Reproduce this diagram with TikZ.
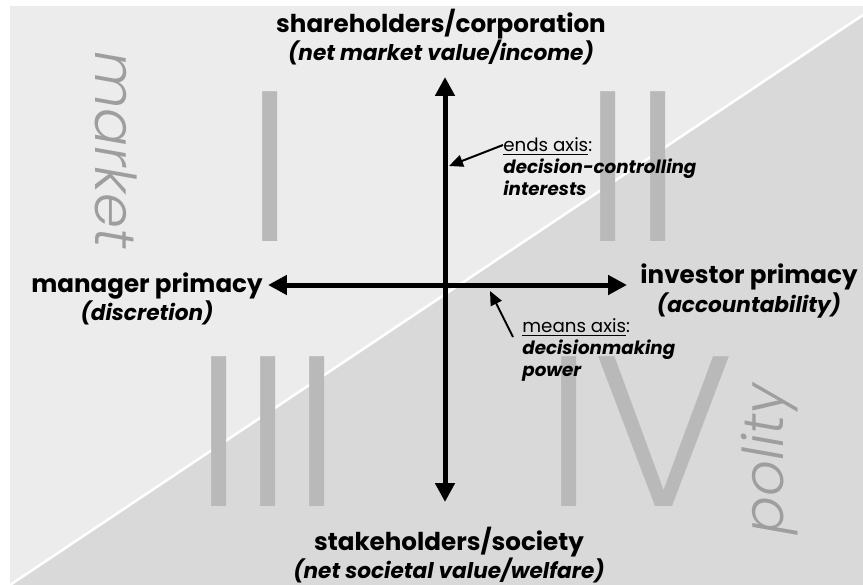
\documentclass[tikz,border=0pt]{standalone}
\usepackage{fontspec}
\setmainfont{Poppins}
\newfontfamily\thinfont{Poppins Light}
\usepackage{tikz}
\usetikzlibrary{arrows.meta, positioning}

\definecolor{marketgray}{HTML}{ECECEC}
\definecolor{politygray}{HTML}{D9D9D9}
\definecolor{numeralgray}{HTML}{B9B9B9}
\definecolor{realmgray}{HTML}{9E9E9E}

\newcommand{\polesub}[1]{{\fontsize{12.3}{16}\selectfont\itshape #1}}

\begin{document}
\begin{tikzpicture}[x=0.02cm, y=-0.02cm,
        pole/.style={font=\fontsize{14}{16}\selectfont\bfseries, align=center, inner sep=0pt},
        note/.style={font=\fontsize{10.4}{12.5}\selectfont, align=left, anchor=north west, inner sep=0pt},
        axis/.style={{Triangle[length=0.38cm, width=0.38cm]}-{Triangle[length=0.38cm, width=0.38cm]}, line width=0.1cm},
        pointer/.style={-{Triangle[length=0.28cm, width=0.24cm]}, line width=0.04cm},
        numeral/.style={text=numeralgray, font=\thinfont\fontsize{122}{122}\selectfont, inner sep=0pt, anchor=base},
        realm/.style={text=realmgray, font=\thinfont\itshape\fontsize{32}{32}\selectfont, inner sep=0pt}
    ]
            \useasboundingbox (0,0) rectangle (863,585);

            % Background: market above the diagonal, polity below
            \fill[white] (0,0) rectangle (863,585);
            \fill[marketgray] (10,6) rectangle (863,585);
            \fill[politygray] (10,585) -- (863,15) -- (863,585) -- cycle;
            \draw[white, line width=0.05cm] (10,585) -- (863,15);

            \node[realm, rotate=-90] (market) at (116,150) {market};
            \node[realm, rotate=90] (polity) at (770,459) {polity};

            % Quadrants
            \node[numeral] (q1) at (270,241) {I};
            \node[numeral] (q2) at (633,241) {II};
            \node[numeral] (q3) at (268,506) {III};
            \node[numeral] (q4) at (640,506) {IV};

            % Poles
            \node[pole] (share) at (441,37) {shareholders/corporation\\\polesub{(net market value/income)}};
            \node[pole] (stake) at (449,555) {stakeholders/society\\\polesub{(net societal value/welfare)}};
            \node[pole] (manager) at (147,299) {manager primacy\\\polesub{(discretion)}};
            \node[pole] (investor) at (749,291) {investor primacy\\\polesub{(accountability)}};

            % Axes
            \coordinate (top) at (445,77);
            \coordinate (bottom) at (445,502);
            \coordinate (left) at (268,285);
            \coordinate (right) at (627,285);
            \draw[axis] (bottom) -- (top);
            \draw[axis] (left) -- (right);

            % Axis notes
            \node[note] (ends) at (503,137) {\underline{ends axis}:\\\textbf{\textit{decision-controlling}}\\\textbf{\textit{interests}}};
            \node[note] (means) at (522,318) {\underline{means axis}:\\\textbf{\textit{decisionmaking}}\\\textbf{\textit{power}}};
            \coordinate (endsfrom) at (503,145);
            \coordinate (endsto) at (449,166);
            \coordinate (meansfrom) at (513,337);
            \coordinate (meansto) at (490,291);
            \draw[pointer] (endsfrom) -- (endsto);
            \draw[pointer] (meansfrom) -- (meansto);
    \end{tikzpicture}
\end{document}
